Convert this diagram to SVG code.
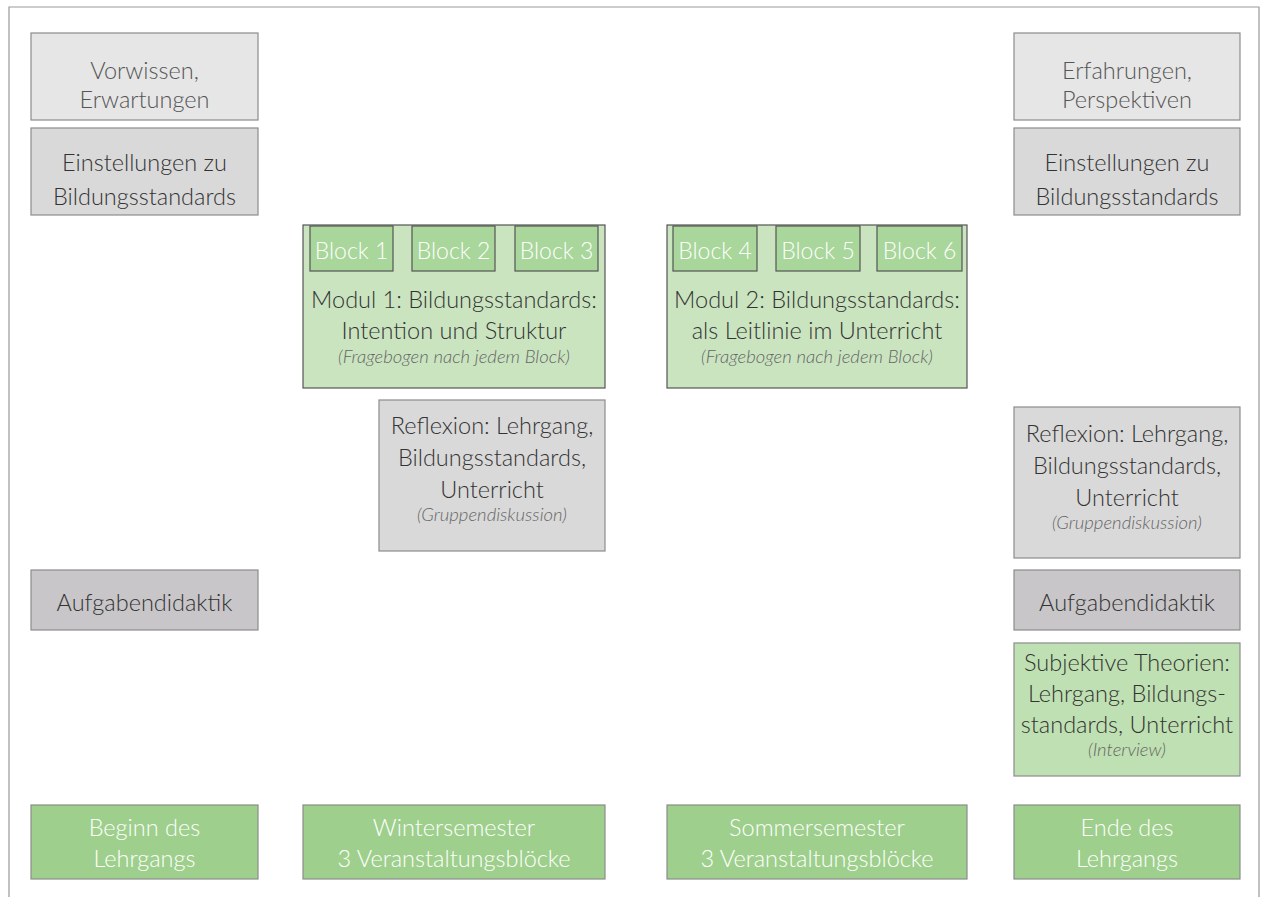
<svg xmlns="http://www.w3.org/2000/svg" width="1264" height="897" viewBox="0 0 1264 897">
<style>
text{font-family:Lato,"Open Sans","Liberation Sans",sans-serif;font-weight:300;text-anchor:middle;}
.t{font-size:23.5px;fill:#333;}
.tl{font-size:23.5px;fill:#555;}
.w{font-size:23.5px;fill:#fff;}
.b{font-size:23px;fill:#fff;}
.i{font-size:18.5px;fill:#666;font-style:italic;}
.g1{fill:#e6e6e6;stroke:#8c8c8c;stroke-width:1.2;}
.g2{fill:#d9d9d9;stroke:#8c8c8c;stroke-width:1.2;}
.g3{fill:#c8c6c8;stroke:#8c8c8c;stroke-width:1.2;}
.m{fill:#cae4c0;stroke:#555;stroke-width:1.2;}
.bl{fill:#a9d69a;stroke:#555;stroke-width:1.2;}
.s{fill:#bfe0b2;stroke:#8c8c8c;stroke-width:1.2;}
.f{fill:#9ecf8c;stroke:#8c8c8c;stroke-width:1.2;}
</style>
<rect width="1264" height="897" fill="#fff"/>
<g id="frame"><path d="M9,897 V7 H1259 V897" fill="none" stroke="#999" stroke-width="1.2"/></g>
<g id="connectors"></g>
<g id="vorwissen"><rect class="g1" x="31" y="33" width="227" height="87"/><text class="tl" x="144.5" y="79">Vorwissen,</text><text class="tl" x="144.5" y="108">Erwartungen</text></g>
<g id="einstellungen-l"><rect class="g2" x="31" y="128" width="227" height="87"/><text class="t" x="144.5" y="171">Einstellungen zu</text><text class="t" x="144.5" y="205">Bildungsstandards</text></g>
<g id="erfahrungen"><rect class="g1" x="1014" y="33" width="226" height="87"/><text class="tl" x="1127" y="79">Erfahrungen,</text><text class="tl" x="1127" y="108">Perspektiven</text></g>
<g id="einstellungen-r"><rect class="g2" x="1014" y="128" width="226" height="87"/><text class="t" x="1127" y="171">Einstellungen zu</text><text class="t" x="1127" y="205">Bildungsstandards</text></g>
<g id="modul1"><rect class="m" x="303" y="225" width="302" height="163"/>
<rect class="bl" x="310" y="226" width="83" height="45"/><text class="b" x="351.5" y="259">Block 1</text>
<rect class="bl" x="412" y="226" width="83" height="45"/><text class="b" x="453.5" y="259">Block 2</text>
<rect class="bl" x="515" y="226" width="83" height="45"/><text class="b" x="556.5" y="259">Block 3</text>
<text class="t" x="454" y="308">Modul 1: Bildungsstandards:</text><text class="t" x="454" y="339">Intention und Struktur</text><text class="i" x="454" y="363">(Fragebogen nach jedem Block)</text></g>
<g id="modul2"><rect class="m" x="667" y="225" width="300" height="163"/>
<rect class="bl" x="673" y="226" width="84" height="45"/><text class="b" x="715" y="259">Block 4</text>
<rect class="bl" x="776" y="226" width="84" height="45"/><text class="b" x="818" y="259">Block 5</text>
<rect class="bl" x="877" y="226" width="85" height="45"/><text class="b" x="919.5" y="259">Block 6</text>
<text class="t" x="817" y="308">Modul 2: Bildungsstandards:</text><text class="t" x="817" y="339">als Leitlinie im Unterricht</text><text class="i" x="817" y="363">(Fragebogen nach jedem Block)</text></g>
<g id="reflexion-l"><rect class="g2" x="379" y="400" width="226" height="151"/><text class="t" x="492" y="434">Reflexion: Lehrgang,</text><text class="t" x="492" y="466">Bildungsstandards,</text><text class="t" x="492" y="498">Unterricht</text><text class="i" x="492" y="521">(Gruppendiskussion)</text></g>
<g id="reflexion-r"><rect class="g2" x="1014" y="407" width="226" height="151"/><text class="t" x="1127" y="442">Reflexion: Lehrgang,</text><text class="t" x="1127" y="474">Bildungsstandards,</text><text class="t" x="1127" y="506">Unterricht</text><text class="i" x="1127" y="529">(Gruppendiskussion)</text></g>
<g id="aufgaben-l"><rect class="g3" x="31" y="570" width="227" height="60"/><text class="t" x="144.5" y="611">Aufgabendidaktik</text></g>
<g id="aufgaben-r"><rect class="g3" x="1014" y="570" width="226" height="60"/><text class="t" x="1127" y="611">Aufgabendidaktik</text></g>
<g id="subjektive"><rect class="s" x="1014" y="643" width="226" height="133"/><text class="t" x="1127" y="671">Subjektive Theorien:</text><text class="t" x="1127" y="702">Lehrgang, Bildungs-</text><text class="t" x="1127" y="733">standards, Unterricht</text><text class="i" x="1127" y="756">(Interview)</text></g>
<g id="beginn"><rect class="f" x="31" y="805" width="227" height="74"/><text class="w" x="144.5" y="836">Beginn des</text><text class="w" x="144.5" y="867">Lehrgangs</text></g>
<g id="winter"><rect class="f" x="303" y="805" width="302" height="74"/><text class="w" x="454" y="836">Wintersemester</text><text class="w" x="454" y="867">3 Veranstaltungsblöcke</text></g>
<g id="sommer"><rect class="f" x="667" y="805" width="300" height="74"/><text class="w" x="817" y="836">Sommersemester</text><text class="w" x="817" y="867">3 Veranstaltungsblöcke</text></g>
<g id="ende"><rect class="f" x="1014" y="805" width="226" height="74"/><text class="w" x="1127" y="836">Ende des</text><text class="w" x="1127" y="867">Lehrgangs</text></g>
</svg>
